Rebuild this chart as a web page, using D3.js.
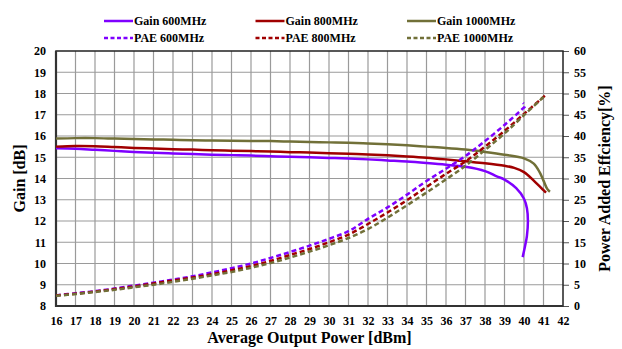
<!DOCTYPE html>
<html>
<head>
<meta charset="utf-8">
<script src="https://cdn.jsdelivr.net/npm/d3@7"></script>
<style>
  body { margin: 0; background: #fff; }
  svg text { font-family: "Liberation Serif", "Times New Roman", serif; font-weight: bold; fill: #000; }
</style>
</head>
<body>
<div id="chart"></div>
<script>
// Données : [puissance dBm, valeur]
const gain600 = [[16,15.42],[17,15.4],[18,15.35],[19,15.3],[20,15.25],[21,15.21],[22,15.18],[23,15.15],[24,15.12],[25,15.1],[26,15.08],[27,15.05],[28,15.02],[29,15.0],[30,14.97],[31,14.94],[32,14.9],[33,14.85],[34,14.8],[35,14.73],[36,14.65],[37,14.55],[38,14.35],[38.6,14.1],[39,13.95],[39.6,13.55],[40.0,13.05],[40.15,12.6],[40.2,12.0],[40.15,11.3],[40.05,10.8],[39.93,10.3]];
const gain800 = [[16,15.5],[17,15.53],[18,15.52],[19,15.48],[20,15.44],[21,15.41],[22,15.38],[23,15.36],[24,15.33],[25,15.31],[26,15.29],[27,15.27],[28,15.24],[29,15.22],[30,15.19],[31,15.16],[32,15.13],[33,15.09],[34,15.04],[35,14.98],[36,14.9],[37,14.81],[38,14.72],[39,14.6],[39.5,14.5],[40,14.3],[40.5,13.9],[41,13.45],[41.13,13.33]];
const gain1000 = [[16,15.88],[17,15.9],[18,15.9],[19,15.88],[20,15.86],[21,15.84],[22,15.82],[23,15.8],[24,15.79],[25,15.78],[26,15.77],[27,15.76],[28,15.74],[29,15.72],[30,15.7],[31,15.68],[32,15.65],[33,15.61],[34,15.56],[35,15.5],[36,15.44],[37,15.36],[38,15.25],[39,15.12],[40,14.95],[40.5,14.7],[40.8,14.3],[41.0,13.9],[41.2,13.5],[41.33,13.38]];
const pae600 = [[16,2.5],[17,3.0],[18,3.5],[19,4.1],[20,4.8],[21,5.5],[22,6.2],[23,7.0],[24,7.9],[25,8.9],[26,10.0],[27,11.3],[28,12.7],[29,14.2],[30,15.8],[31,17.6],[32,20.5],[33,23.2],[34,26.2],[35,29.4],[36,32.3],[37,35.3],[38,38.8],[39,42.6],[39.9,46.3],[40.05,47.0],[39.95,47.8]];
const pae800 = [[16,2.5],[17,2.9],[18,3.4],[19,4.0],[20,4.6],[21,5.3],[22,6.0],[23,6.7],[24,7.5],[25,8.4],[26,9.4],[27,10.6],[28,12.0],[29,13.4],[30,15.0],[31,16.8],[32,19.3],[33,22.0],[34,24.9],[35,28.0],[36,31.1],[37,34.0],[38,37.5],[39,41.2],[40,45.2],[41,49.2],[41.1,49.6]];
const pae1000 = [[16,2.4],[17,2.8],[18,3.3],[19,3.8],[20,4.4],[21,5.0],[22,5.7],[23,6.4],[24,7.2],[25,8.0],[26,9.0],[27,10.1],[28,11.4],[29,12.8],[30,14.3],[31,16.0],[32,18.1],[33,20.8],[34,23.7],[35,26.7],[36,29.8],[37,33.0],[38,36.7],[39,40.6],[40,44.9],[41,49.2],[41.08,49.6]];

const xTicks = d3.range(16, 43, 1);
const gainTicks = d3.range(8, 21, 1);
const paeTicks = d3.range(0, 61, 5);

const series = [
  { name: "Gain 600MHz", data: gain600, axis: "gain", color: "#7f00ff", dash: null },
  { name: "Gain 800MHz", data: gain800, axis: "gain", color: "#a00000", dash: null },
  { name: "Gain 1000MHz", data: gain1000, axis: "gain", color: "#717038", dash: null },
  { name: "PAE 600MHz", data: pae600, axis: "pae", color: "#7f00ff", dash: "5,3" },
  { name: "PAE 800MHz", data: pae800, axis: "pae", color: "#a00000", dash: "5,3" },
  { name: "PAE 1000MHz", data: pae1000, axis: "pae", color: "#717038", dash: "5,3" }
];

const svg = d3.select("#chart").append("svg")
  .attr("width", 622)
  .attr("height", 349);

const mLeft = 56, mRight = 563, mTop = 51, mBottom = 306;

const x = d3.scaleLinear().domain([16, 42]).range([mLeft, mRight]);
const yGain = d3.scaleLinear().domain([8, 20]).range([mBottom, mTop]);
const yPae = d3.scaleLinear().domain([0, 60]).range([mBottom, mTop]);

// Grille
svg.append("g")
  .selectAll("line")
  .data(xTicks.slice(1, -1))
  .enter().append("line")
  .attr("x1", d => x(d)).attr("x2", d => x(d))
  .attr("y1", mTop).attr("y2", mBottom)
  .attr("stroke", "#9a9a9a").attr("stroke-width", 1.2);

svg.append("g")
  .selectAll("line")
  .data(gainTicks.slice(1, -1))
  .enter().append("line")
  .attr("x1", mLeft).attr("x2", mRight)
  .attr("y1", d => yGain(d)).attr("y2", d => yGain(d))
  .attr("stroke", "#9a9a9a").attr("stroke-width", 1.2);

// Axes
const axisX = svg.append("g")
  .attr("transform", `translate(0,${mBottom})`)
  .call(d3.axisBottom(x).tickValues(xTicks).tickSize(0).tickPadding(10));
axisX.select(".domain").remove();
axisX.selectAll("text").style("font-size", "12px");

const axisL = svg.append("g")
  .attr("transform", `translate(${mLeft},0)`)
  .call(d3.axisLeft(yGain).tickValues(gainTicks).tickSize(0).tickPadding(10));
axisL.select(".domain").remove();
axisL.selectAll("text").style("font-size", "12px");

const axisR = svg.append("g")
  .attr("transform", `translate(${mRight},0)`)
  .call(d3.axisRight(yPae).tickValues(paeTicks).tickSize(6).tickPadding(5));
axisR.select(".domain").remove();
axisR.selectAll("line").attr("stroke", "#555");
axisR.selectAll("text").style("font-size", "12px");

// Cadre
svg.append("rect")
  .attr("x", mLeft).attr("y", mTop)
  .attr("width", mRight - mLeft).attr("height", mBottom - mTop)
  .attr("fill", "none").attr("stroke", "#222").attr("stroke-width", 1.5);
svg.append("path")
  .attr("d", `M${mLeft},${mTop}V${mBottom}H${mRight}`)
  .attr("fill", "none").attr("stroke", "#333").attr("stroke-width", 2.2);

// Courbes
const line = d3.line().curve(d3.curveCatmullRom.alpha(0.5));
svg.append("g")
  .selectAll("path")
  .data(series)
  .enter().append("path")
  .attr("fill", "none")
  .attr("stroke", d => d.color)
  .attr("stroke-width", 2.5)
  .attr("stroke-dasharray", d => d.dash)
  .attr("d", d => {
    const ys = d.axis === "gain" ? yGain : yPae;
    return line(d.data.map(p => [x(p[0]), ys(p[1])]));
  });

// Légende
const legend = svg.append("g")
  .selectAll("g")
  .data(series)
  .enter().append("g")
  .attr("transform", (d, i) => `translate(${104 + (i % 3) * 151.5},${i < 3 ? 21 : 38})`);
legend.append("line")
  .attr("x1", 0).attr("x2", 29)
  .attr("stroke", d => d.color)
  .attr("stroke-width", 2.5)
  .attr("stroke-dasharray", d => d.dash ? "4,2.5" : null);
legend.append("text")
  .attr("x", 30).attr("y", 4)
  .style("font-size", "12px")
  .text(d => d.name);

// Titres
svg.append("text")
  .attr("x", (mLeft + mRight) / 2).attr("y", 343)
  .attr("text-anchor", "middle")
  .style("font-size", "16px")
  .text("Average Output Power [dBm]");

svg.append("text")
  .attr("transform", `translate(25,${(mTop + mBottom) / 2}) rotate(-90)`)
  .attr("text-anchor", "middle")
  .style("font-size", "16px")
  .text("Gain [dB]");

svg.append("text")
  .attr("transform", `translate(610,${(mTop + mBottom) / 2}) rotate(-90)`)
  .attr("text-anchor", "middle")
  .style("font-size", "16px")
  .text("Power Added Effciency[%]");
</script>
</body>
</html>
